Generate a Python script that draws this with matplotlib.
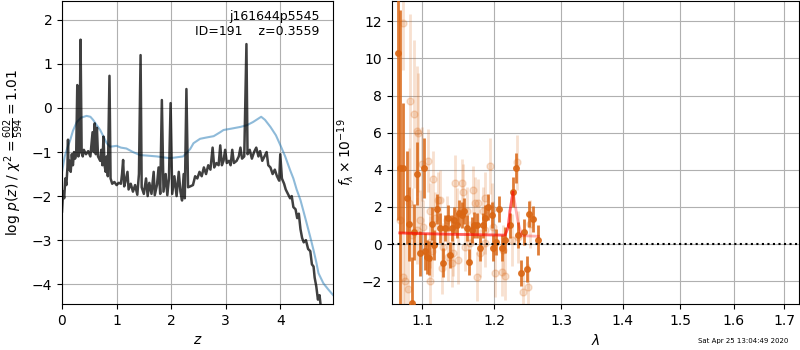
import numpy as np
import matplotlib
matplotlib.use("Agg")
import matplotlib.pyplot as plt
from matplotlib.ticker import NullLocator

# ---- left panel: redshift PDF ----
z_pdf = [0.00, 0.02, 0.04, 0.06, 0.08, 0.10, 0.11, 0.12, 0.14, 0.16, 0.18, 0.20, 0.22, 0.24,
         0.26, 0.28, 0.30, 0.32, 0.34, 0.36, 0.38, 0.40, 0.44, 0.48, 0.52, 0.56, 0.58, 0.60,
         0.62, 0.64, 0.66, 0.70, 0.72, 0.74, 0.76, 0.78, 0.80, 0.82, 0.84, 0.87, 0.89, 0.92,
         0.96, 1.00, 1.04, 1.08, 1.10, 1.12, 1.14, 1.16, 1.20, 1.22, 1.26, 1.30, 1.34, 1.38,
         1.41, 1.44, 1.46, 1.50, 1.54, 1.57, 1.60, 1.64, 1.68, 1.70, 1.74, 1.77, 1.80, 1.83,
         1.86, 1.90, 1.93, 1.96, 1.99, 2.02, 2.06, 2.10, 2.14, 2.17, 2.20, 2.23, 2.25, 2.28,
         2.31, 2.35, 2.40, 2.44, 2.48, 2.52, 2.56, 2.60, 2.64, 2.68, 2.72, 2.76, 2.79, 2.83,
         2.87, 2.90, 2.93, 2.96, 2.99, 3.02, 3.06, 3.09, 3.12, 3.15, 3.20, 3.24, 3.27, 3.30,
         3.34, 3.38, 3.40, 3.44, 3.48, 3.52, 3.56, 3.60, 3.63, 3.67, 3.71, 3.75, 3.78, 3.82,
         3.86, 3.90, 3.94, 3.98, 4.00, 4.03, 4.07, 4.10, 4.14, 4.18, 4.21, 4.24, 4.28, 4.31,
         4.34, 4.37, 4.40, 4.43, 4.47, 4.51, 4.55, 4.58, 4.61, 4.63, 4.66, 4.69, 4.72, 4.75,
         4.80, 4.97]
logp = [-2.35, -1.90, -2.05, -1.60, -1.75, -1.35, -0.72, -1.40, -1.20, -1.45, -1.05, -1.30, -1.00, -1.15,
        -1.05, 0.52, -1.10, -1.00, 1.55, -1.00, -1.10, -0.95, -1.05, -0.98, -1.10, -0.55, -1.00, -0.35,
        -1.05, -0.45, -1.10, -1.20, -0.95, -1.30, -0.65, -1.30, -1.45, -1.10, -1.55, 0.73, -1.60, -1.72,
        -1.68, -1.75, -1.70, -1.72, -1.50, -1.18, -1.78, -1.68, -1.45, -1.85, -1.72, -1.90, -1.75, -1.97,
        -1.50, 1.20, -1.80, -1.95, -1.60, -2.00, -1.70, -1.95, -1.45, -1.98, -1.75, -1.35, -1.95, 0.18,
        -1.90, -1.50, -1.98, -1.60, 0.11, -1.95, -1.55, -2.00, -1.45, -1.90, -2.10, -1.50, -2.05, 0.43,
        -1.80, -1.78, -1.75, -1.55, -1.60, -1.45, -1.55, -1.35, -1.50, -1.30, -1.40, -0.90, -1.35, -1.25,
        -1.30, -0.85, -1.30, -1.20, -0.95, -1.25, -1.20, -1.30, -0.95, -1.25, -1.20, -1.10, -0.90, -1.15,
        -1.10, 1.45, -1.05, -0.95, -1.15, -1.00, -0.90, -1.10, -0.98, -1.20, -1.10, -1.00, -1.30, -1.35,
        -1.50, -1.40, -1.55, -1.65, -1.05, -1.60, -1.72, -1.85, -1.95, -2.05, -2.00, -2.25, -2.30, -2.50,
        -2.40, -2.75, -2.95, -3.05, -3.00, -3.20, -3.25, -3.55, -3.60, -3.85, -4.05, -4.35, -4.25, -4.60,
        -5.00, -5.80]

z_prior = [0.00, 0.05, 0.10, 0.15, 0.20, 0.27, 0.35, 0.45, 0.52, 0.57, 0.63, 0.70, 0.76, 0.82,
           0.88, 0.94, 1.00, 1.08, 1.18, 1.30, 1.43, 1.55, 1.74, 1.85, 1.98, 2.10, 2.22, 2.30,
           2.35, 2.41, 2.53, 2.65, 2.78, 2.90, 2.96, 3.10, 3.27, 3.39, 3.50, 3.60, 3.65, 3.72,
           3.82, 3.92, 4.00, 4.09, 4.18, 4.24, 4.30, 4.37, 4.42, 4.48, 4.55, 4.61, 4.66, 4.70,
           4.79, 4.88, 4.97]
prior = [-1.45, -1.10, -0.90, -0.73, -0.52, -0.32, -0.22, -0.18, -0.20, -0.27, -0.38, -0.50, -0.65, -0.80,
         -0.88, -0.87, -0.86, -0.90, -0.92, -1.00, -1.07, -1.08, -1.10, -1.12, -1.14, -1.12, -1.10, -1.00,
         -0.93, -0.80, -0.70, -0.67, -0.64, -0.55, -0.50, -0.47, -0.43, -0.39, -0.32, -0.24, -0.20, -0.27,
         -0.43, -0.62, -0.84, -1.10, -1.41, -1.60, -1.85, -2.09, -2.32, -2.60, -2.93, -3.23, -3.50, -3.75,
         -3.98, -4.12, -4.25]

# ---- right panel: 1D spectrum ----
lam_raw = [1.0751, 1.0842, 1.0894, 1.0934, 1.0947, 1.1000, 1.1080, 1.1146, 1.1241, 1.1445,
           1.1542, 1.1556, 1.1696, 1.1724, 1.0934, 1.1013, 1.1106, 1.1133, 1.1282, 1.1350,
           1.1418, 1.1487, 1.1584, 1.1653, 1.1752, 1.1794, 1.0751, 1.0816, 1.1106, 1.1268,
           1.1404, 1.1214, 1.1106, 1.0974, 1.1173, 1.1336, 1.1473, 1.1612, 1.1766, 1.1865,
           1.0712, 1.1937, 1.1865, 1.1966, 1.1837, 1.1980, 1.1865, 1.2009, 1.2110, 1.2154,
           1.2125, 1.2331, 1.2257, 1.2345, 1.2420, 1.2494, 1.2524, 1.0777, 1.0868, 1.0829]
flux_raw = [11.9, 7.7, 7.0, 6.1, 6.0, 4.3, 4.5, 3.5, 2.4, 3.3,
            3.3, 2.8, 2.9, 2.2, 0.75, 0.9, 0.1, -0.4, -0.15, -0.7,
            -0.5, -0.85, -0.15, 0.05, -1.75, -0.5, -1.8, -2.4, -2.0, -1.3,
            -1.0, 2.4, 1.8, 1.3, 1.4, 1.3, 1.7, 1.8, 2.2, 0.75,
            1.3, 4.2, 2.5, 1.9, 1.8, 0.9, 0.05, -1.55, -1.5, -1.7,
            -0.3, 4.4, 0.2, 0.4, -2.6, -2.3, 1.1, -2.0, 0.5, 2.2]
err_raw = [2.5, 4.7, 4.0, 3.5, 3.2, 2.0, 1.7, 1.5, 1.6, 1.5,
           1.3, 1.5, 1.3, 1.4, 1.8, 1.5, 1.4, 1.4, 1.3, 1.3,
           1.2, 1.3, 1.3, 1.2, 1.3, 1.3, 2.5, 2.5, 1.6, 1.4,
           1.3, 1.5, 1.5, 1.6, 1.4, 1.3, 1.3, 1.3, 1.3, 1.3,
           3.0, 1.5, 1.4, 1.4, 1.3, 1.4, 1.3, 1.3, 1.3, 1.3,
           1.3, 1.5, 1.4, 1.4, 1.2, 1.2, 1.3, 2.0, 2.5, 3.0]

lam_bin = [1.0686, 1.0712, 1.0751, 1.0803, 1.0829, 1.0868, 1.0894, 1.0934, 1.0974, 1.1027,
           1.1040, 1.1066, 1.1093, 1.1133, 1.1160, 1.1200, 1.1241, 1.1282, 1.1309, 1.1350,
           1.1377, 1.1404, 1.1432, 1.1473, 1.1501, 1.1542, 1.1570, 1.1612, 1.1640, 1.1682,
           1.1710, 1.1752, 1.1794, 1.1837, 1.1865, 1.1908, 1.1966, 1.1980, 1.2023, 1.2067,
           1.2110, 1.2154, 1.2227, 1.2271, 1.2316, 1.2345, 1.2390, 1.2434, 1.2479, 1.2509,
           1.2569, 1.2645]
flux_bin = [10.3, 4.1, 4.1, 2.5, 1.1, -3.2, 0.65, 3.8, -0.5, 4.1,
            -0.4, -0.7, -0.75, 1.1, -0.05, 1.9, 0.85, -1.0, 0.85, 1.4,
            -0.6, 0.85, 1.3, 1.0, 1.7, 1.55, 1.8, 0.85, -0.95, 0.75,
            1.05, 1.0, -0.2, 1.0, 1.4, 2.0, 1.55, -0.2, 0.1, 1.9,
            -0.2, 0.2, 1.0, 2.8, 4.1, 0.5, -1.55, 0.65, -1.35, 1.6,
            1.35, 0.2]
err_bin = [9.0, 8.5, 3.5, 2.5, 2.0, 2.5, 1.5, 1.7, 1.2, 1.6,
           1.0, 0.9, 0.9, 0.9, 0.8, 0.8, 0.8, 0.8, 0.7, 0.7,
           0.7, 0.7, 0.7, 0.7, 0.7, 0.7, 0.7, 0.7, 0.7, 0.7,
           0.7, 0.7, 0.7, 0.7, 0.7, 0.7, 0.7, 0.7, 0.7, 0.7,
           0.7, 0.7, 0.7, 0.8, 0.8, 0.7, 0.7, 0.7, 0.7, 0.7,
           0.7, 0.8]

lam_model = [1.071, 1.100, 1.150, 1.2154, 1.2200, 1.2227, 1.2271, 1.2345, 1.2400, 1.2650]
flux_model = [0.60, 0.56, 0.52, 0.48, 0.90, 1.80, 2.80, 1.20, 0.45, 0.42]
lam_model2 = [1.071, 1.100, 1.150, 1.2154, 1.2200, 1.2227, 1.2271]
flux_model2 = [0.60, 0.56, 0.52, 0.48, 0.90, 1.80, 2.80]

lam_ticks = [1.1, 1.2, 1.3, 1.4, 1.5, 1.6, 1.7]

orange = (0.85, 0.40, 0.08)

fig = plt.figure(figsize=(8, 3.5), dpi=100)
ax1 = fig.add_axes([0.0775, 0.1314, 0.339, 0.866])
ax2 = fig.add_axes([0.49, 0.1314, 0.509, 0.866])

# left
ax1.plot(z_prior, prior, color='#1f77b4', alpha=0.5, lw=1.5)
ax1.plot(z_pdf, logp, color='k', alpha=0.75, lw=1.8)
ax1.set_xlim(0, 4.97)
ax1.set_ylim(-4.45, 2.43)
ax1.set_xticks([0, 1, 2, 3, 4])
ax1.set_yticks([-4, -3, -2, -1, 0, 1, 2])
ax1.grid(True)
ax1.set_xlabel(r'$z$')
ax1.set_ylabel(r'log $p(z)$ / $\chi^2=\frac{602}{594}=1.01$')
ax1.text(0.95, 0.97, 'j161644p5545\nID=191    z=0.3559', transform=ax1.transAxes,
         ha='right', va='top', fontsize=9)

# right
ax2.errorbar(lam_raw, flux_raw, yerr=err_raw, fmt='o', color=orange, alpha=0.2,
             ms=5, lw=2, capsize=0, zorder=2)
ax2.errorbar(lam_bin, flux_bin, yerr=err_bin, fmt='o', color=orange, alpha=0.85,
             ms=4, lw=2, capsize=0, zorder=3)
ax2.plot(lam_model, flux_model, color='red', alpha=0.3, lw=2, zorder=4)
ax2.plot(lam_model2, flux_model2, color='red', alpha=0.45, lw=2, zorder=4)
ax2.axhline(0, color='k', ls=':', lw=1.5, zorder=5)
ax2.set_xscale('log')
ax2.set_xlim(1.061, 1.731)
ax2.set_ylim(-3.23, 13.1)
ax2.set_xticks(lam_ticks)
ax2.set_xticklabels([f'{t:.1f}' for t in lam_ticks])
ax2.xaxis.set_minor_locator(NullLocator())
ax2.set_yticks([-2, 0, 2, 4, 6, 8, 10, 12])
ax2.grid(True)
ax2.set_xlabel(r'$\lambda$')
ax2.set_ylabel(r'$f_\lambda \times 10^{-19}$')

fig.text(0.985, 0.025, 'Sat Apr 25 13:04:49 2020', ha='right', va='center', fontsize=5)

fig.savefig('out.png', dpi=100)
